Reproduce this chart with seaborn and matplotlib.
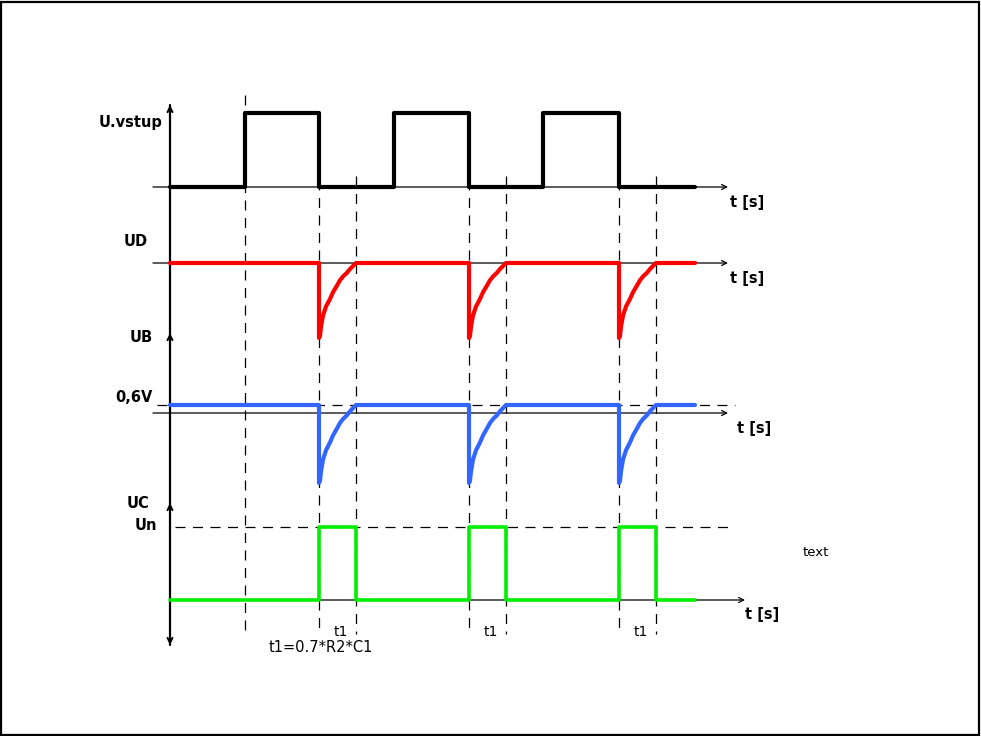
import numpy as np
import pandas as pd
import seaborn as sns
import matplotlib
import matplotlib.pyplot as plt
from matplotlib.patches import Rectangle

sns.set_style('white')
plt.rcParams['font.family'] = ['DejaVu Sans']
plt.rcParams['text.color'] = 'black'

# time base of the diagram (x offset from the vertical axis)
rise_t = [75, 224, 373]      # U.vstup goes high
fall_t = [149, 299, 449]     # U.vstup goes low
t1 = 37                      # monostable time t1
t_end = 525

# recovery of UD / UB after the falling edge
rec_dt = [0, 0, 1, 2, 4, 7, 11, 14, 18, 21, 24, 28, 31, 34, 37]
rec_lv = [0, -1.0, -0.97, -0.85, -0.7, -0.58, -0.48, -0.39, -0.3, -0.23, -0.18, -0.13, -0.08, -0.04, 0]

# labels
track_labels = ['U.vstup', 'UD', 'UB', 'UC']
level_labels = ['0,6V', 'Un']
t1_label = 't1'
t1_formula = 't1=0.7*R2*C1'
axis_label = 't [s]'

# layout (pixels)
W, H = 981, 736
x0 = 170
base_in, amp_in = 187, 74
base_ud, amp_ud = 263, 75
base_ub, amp_ub, axis_ub = 405, 78, 413
base_uc, amp_uc = 600, 73


def square(highs, lows):
    xs, ys = [0], [0]
    for a, b in zip(highs, lows):
        xs += [a, a, b, b]
        ys += [0, 1, 1, 0]
    xs.append(t_end)
    ys.append(0)
    return np.array(xs), np.array(ys)


def spikes():
    xs, ys = [0], [0]
    for f in fall_t:
        for d, v in zip(rec_dt, rec_lv):
            xs.append(f + d)
            ys.append(v)
    xs.append(t_end)
    ys.append(0)
    return np.array(xs), np.array(ys)


fig = plt.figure(figsize=(W / 100, H / 100), dpi=100)
ax = fig.add_axes([0, 0, 1, 1])
ax.set_xlim(0, W)
ax.set_ylim(H, 0)
ax.axis('off')

fig.patches.append(Rectangle((0.001, 0.001), 0.997, 0.996, transform=fig.transFigure,
                             fill=False, ec='black', lw=1.6))

arr = dict(arrowstyle='->', lw=0.9, color='black', mutation_scale=9, shrinkA=0, shrinkB=0)


def harrow(y, xa, xb):
    ax.annotate('', xy=(xb, y), xytext=(xa, y), arrowprops=arr, zorder=2)


def vhead(y, up=True):
    d = 10 if up else -10
    ax.annotate('', xy=(x0, y), xytext=(x0, y + d), arrowprops=dict(arr, lw=1.4), zorder=2)


# vertical axis
ax.plot([x0, x0], [645, 105], color='black', lw=1.6, zorder=2)
for y in [105, 333, 503]:
    vhead(y)
vhead(645, up=False)

# time axes
harrow(base_in, 153, 728)
harrow(base_ud, 153, 728)
harrow(axis_ub, 153, 728)
harrow(base_uc, 170, 745)

# dashed guides
dash = dict(color='black', lw=0.9, ls=(0, (8, 6)), zorder=1)
ax.plot([x0 + rise_t[0]] * 2, [95, 636], **dash)
for f in fall_t:
    ax.plot([x0 + f] * 2, [180, 630], **dash)
    ax.plot([x0 + f + t1] * 2, [176, 634], **dash)
ax.plot([157, 735], [base_ub, base_ub], **dash)
ax.plot([175, 735], [base_uc - amp_uc] * 2, **dash)

# waveforms
sx, sy = square(rise_t, fall_t)
kx, ky = spikes()
px, py = square(fall_t, [f + t1 for f in fall_t])

sig = [
    (sx, base_in - amp_in * sy, 'black', 3.0),
    (kx, base_ud - amp_ud * ky, '#ff0000', 3.0),
    (kx, base_ub - amp_ub * ky, '#3366ff', 3.0),
    (px, base_uc - amp_uc * py, '#00ee00', 2.6),
]
for x, y, c, w in sig:
    df = pd.DataFrame({'t': x + x0, 'u': y})
    sns.lineplot(data=df, x='t', y='u', sort=False, estimator=None, color=c, lw=w,
                 ax=ax, zorder=3)
ax.set_xlim(0, W)
ax.set_ylim(H, 0)
ax.axis('off')

# labels
bold = dict(fontsize=10.5, fontweight='bold', va='center', color='black')
ax.text(162, 123, track_labels[0], ha='right', **bold)
ax.text(148, 242, track_labels[1], ha='right', **bold)
ax.text(153, 337, track_labels[2], ha='right', **bold)
ax.text(153, 398, level_labels[0], ha='right', **bold)
ax.text(149, 503, track_labels[3], ha='right', **bold)
ax.text(157, 526, level_labels[1], ha='right', **bold)

for xl, yl in [(730, 202), (730, 278), (737, 428), (745, 615)]:
    ax.text(xl, yl, axis_label, ha='left', **bold)

for f in fall_t:
    ax.text(x0 + f + t1 / 2 + 3, 632, t1_label, ha='center', va='center', fontsize=10,
            color='black')
ax.text(321, 648, t1_formula, ha='center', va='center', fontsize=10.5, color='black')
ax.text(816, 553, 'text', ha='center', va='center', fontsize=9.5, color='black')

fig.savefig('out.png', dpi=100)
